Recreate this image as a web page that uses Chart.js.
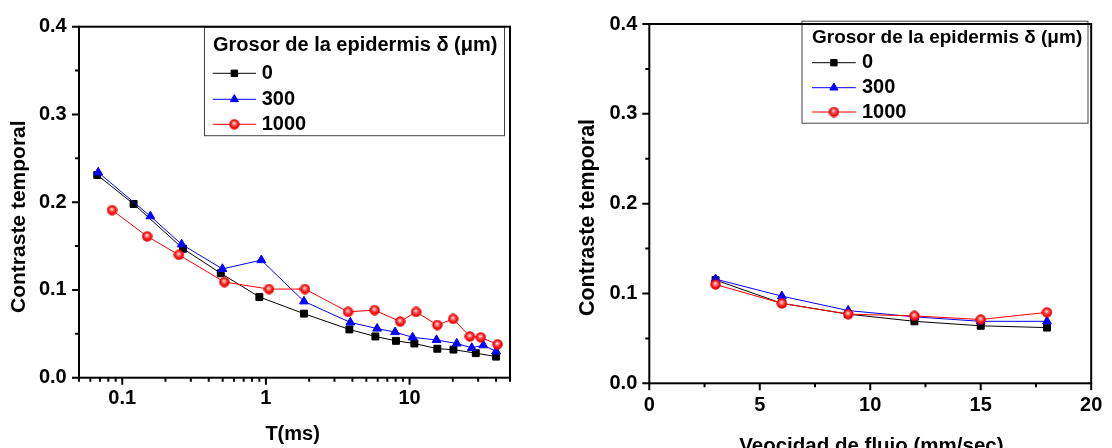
<!DOCTYPE html>
<html><head><meta charset="utf-8">
<script src="https://cdn.jsdelivr.net/npm/chart.js@4.4.1/dist/chart.umd.min.js"></script>
<style>
html,body{margin:0;padding:0;background:#fff;overflow:hidden}
#wrap{position:relative;width:1112px;height:448px;background:#fff}
canvas{position:absolute;top:0}
</style></head><body>
<div id="wrap">
<canvas id="c1" width="556" height="448" style="left:0"></canvas>
<canvas id="c2" width="556" height="448" style="left:556px"></canvas>
</div>
<script>
// ---------------- data ----------------
const seriesLabels = ['0', '300', '1000'];
const legendTitle = 'Grosor de la epidermis \u03b4 (\u03bcm)';
const yTitle = 'Contraste temporal';
const leftXTitle = 'T(ms)';
const rightXTitle = 'Veocidad de flujo (mm/sec)';

// Left panel: contraste vs T (ms)
const tX0    = [0.067, 0.12, 0.265, 0.485, 0.9, 1.84, 3.81, 5.78, 8.04, 10.8, 15.6, 20.2, 28.9, 40];
const tY0    = [0.231, 0.198, 0.147, 0.119, 0.092, 0.073, 0.055, 0.047, 0.042, 0.039, 0.033, 0.032, 0.028, 0.024];
const tX300  = [0.068, 0.157, 0.259, 0.498, 0.929, 1.84, 3.87, 5.94, 7.92, 10.5, 15.4, 21.3, 27.1, 32.6, 40];
const tY300  = [0.234, 0.184, 0.152, 0.124, 0.134, 0.087, 0.063, 0.056, 0.052, 0.046, 0.043, 0.039, 0.034, 0.037, 0.030];
const tX1000 = [0.085, 0.149, 0.248, 0.514, 1.05, 1.87, 3.73, 5.71, 8.6, 11.1, 15.6, 20.1, 26.3, 31.3, 41];
const tY1000 = [0.191, 0.161, 0.140, 0.109, 0.101, 0.101, 0.075, 0.077, 0.064, 0.075, 0.060, 0.067, 0.047, 0.046, 0.038];

// Right panel: contraste vs velocidad de flujo
const vX     = [3, 6, 9, 12, 15, 18];
const vY0    = [0.115, 0.089, 0.077, 0.069, 0.064, 0.062];
const vY300  = [0.116, 0.097, 0.081, 0.074, 0.069, 0.069];
const vY1000 = [0.110, 0.089, 0.077, 0.075, 0.071, 0.079];

// ticks
const leftXMajor  = [0.1, 1, 10];
const leftXMinor  = [0.05, 0.06, 0.07, 0.08, 0.09, 0.2, 0.3, 0.4, 0.5, 0.6, 0.7, 0.8, 0.9,
                     2, 3, 4, 5, 6, 7, 8, 9, 20, 30, 40, 50];
const rightXMajor = [0, 5, 10, 15, 20];
const rightXMinor = [2.5, 7.5, 12.5, 17.5];
const yMajor      = [0, 0.1, 0.2, 0.3, 0.4];
const yMinor      = [0.05, 0.15, 0.25, 0.35];

// ---------------- styles ----------------
const FONT = '"Liberation Sans", Arial, Helvetica, sans-serif';
const colors = ['#000000', '#0000ff', '#ff0000'];

function redBall() {
  const c = document.createElement('canvas');
  c.width = 11; c.height = 11;
  const g = c.getContext('2d');
  const grd = g.createRadialGradient(5.1, 4.2, 0.3, 5.5, 5.5, 5.2);
  grd.addColorStop(0, '#ffe6e6');
  grd.addColorStop(0.35, '#ff6060');
  grd.addColorStop(0.75, '#ff0000');
  grd.addColorStop(1, '#d80000');
  g.fillStyle = grd;
  g.beginPath(); g.arc(5.5, 5.5, 4.8, 0, Math.PI * 2); g.fill();
  g.strokeStyle = '#e00000'; g.lineWidth = 0.8; g.stroke();
  return c;
}
const ball = redBall();

function pts(xs, ys) { return xs.map((x, i) => ({x: x, y: ys[i]})); }

function makeDatasets(xs0, ys0, xs1, ys1, xs2, ys2) {
  return [
    {label: seriesLabels[0], data: pts(xs0, ys0), borderColor: colors[0], backgroundColor: colors[0],
     borderWidth: 1, pointStyle: 'rect', pointRadius: 4.9, pointBorderWidth: 1, order: 3},
    {label: seriesLabels[1], data: pts(xs1, ys1), borderColor: colors[1], backgroundColor: colors[1],
     borderWidth: 1, pointStyle: 'triangle', pointRadius: 5.1, pointBorderWidth: 1, order: 2},
    {label: seriesLabels[2], data: pts(xs2, ys2), borderColor: colors[2], backgroundColor: colors[2],
     borderWidth: 1, pointStyle: ball, pointRadius: 5, pointBorderWidth: 0, order: 1}
  ];
}

// plugin: frame, tick marks, legend box and axis titles
const decorPlugin = {
  id: 'decor',
  afterDraw(chart, args, o) {
    const ctx = chart.ctx, a = chart.chartArea;
    const xs = chart.scales.x, ys = chart.scales.y;
    ctx.save();
    // legend
    const L = o.legend;
    ctx.fillStyle = '#fff';
    ctx.fillRect(L.x, L.y, L.w, L.h);
    ctx.strokeStyle = '#444'; ctx.lineWidth = 1;
    ctx.strokeRect(L.x + 0.5, L.y + 0.5, L.w, L.h);
    ctx.fillStyle = '#000';
    ctx.font = 'bold ' + L.titleSize + 'px ' + FONT;
    ctx.textAlign = 'left'; ctx.textBaseline = 'middle';
    ctx.fillText(legendTitle, L.textX0, L.titleY);
    chart.data.datasets.forEach((ds, i) => {
      const y = L.rowY[i];
      ctx.strokeStyle = ds.borderColor; ctx.lineWidth = 1;
      ctx.beginPath(); ctx.moveTo(L.lineX0, y); ctx.lineTo(L.lineX1, y); ctx.stroke();
      ctx.fillStyle = ds.backgroundColor; ctx.strokeStyle = ds.borderColor;
      const cx = (L.lineX0 + L.lineX1) / 2;
      Chart.helpers.drawPoint(ctx, {pointStyle: ds.pointStyle, rotation: 0,
        radius: ds.pointRadius * 0.92, borderWidth: ds.pointBorderWidth}, cx, y);
      ctx.fillStyle = '#000';
      ctx.font = 'bold ' + L.rowSize + 'px ' + FONT;
      ctx.textAlign = 'left'; ctx.textBaseline = 'middle';
      ctx.fillText(ds.label, L.textX, y);
    });
    // frame
    ctx.strokeStyle = '#000'; ctx.lineWidth = 2;
    ctx.strokeRect(a.left, a.top, a.right - a.left, a.bottom - a.top);
    // ticks
    ctx.beginPath();
    o.xMajor.forEach(v => { const p = xs.getPixelForValue(v); ctx.moveTo(p, a.bottom); ctx.lineTo(p, a.bottom + 7); });
    o.xMinor.forEach(v => { const p = xs.getPixelForValue(v); ctx.moveTo(p, a.bottom); ctx.lineTo(p, a.bottom + 4); });
    o.yMajor.forEach(v => { const p = ys.getPixelForValue(v); ctx.moveTo(a.left, p); ctx.lineTo(a.left - 7, p); });
    o.yMinor.forEach(v => { const p = ys.getPixelForValue(v); ctx.moveTo(a.left, p); ctx.lineTo(a.left - 4, p); });
    ctx.stroke();
    // axis titles
    ctx.fillStyle = '#000';
    ctx.textAlign = 'center'; ctx.textBaseline = 'alphabetic';
    ctx.font = 'bold ' + o.xt.size + 'px ' + FONT;
    ctx.fillText(o.xt.text, o.xt.x, o.xt.y);
    ctx.translate(o.yt.x, o.yt.y);
    ctx.rotate(-Math.PI / 2);
    ctx.font = 'bold ' + o.yt.size + 'px ' + FONT;
    ctx.fillText(o.yt.text, 0, 0);
    ctx.restore();
  }
};

function tickFont() { return {family: FONT, size: 20, weight: 'bold'}; }

function baseOptions(pad, yWidth, xHeight, xPad, yPad) {
  return {
    responsive: false, animation: false, devicePixelRatio: 1,
    layout: {padding: pad},
    plugins: {legend: {display: false}, tooltip: {enabled: false}},
    scales: {
      y: {
        type: 'linear', min: 0, max: 0.4,
        afterBuildTicks: s => { s.ticks = yMajor.map(v => ({value: v})); },
        afterFit: s => { s.width = yWidth; },
        grid: {display: false, drawTicks: false},
        border: {display: false},
        ticks: {color: '#000', font: tickFont(), padding: yPad, callback: v => Number(v).toFixed(1)}
      },
      x: {
        afterFit: s => { s.height = xHeight; },
        grid: {display: false, drawTicks: false},
        border: {display: false},
        ticks: {color: '#000', font: tickFont(), padding: xPad, autoSkip: false, maxRotation: 0, minRotation: 0}
      }
    }
  };
}

// ---------- left chart ----------
const opt1 = baseOptions({left: 0, right: 46, top: 26.7, bottom: 0}, 79, 70.3, 8.6, 12.3);
Object.assign(opt1.scales.x, {
  type: 'logarithmic', min: 0.05, max: 50,
  afterBuildTicks: s => { s.ticks = leftXMajor.map(v => ({value: v})); }
});
opt1.scales.x.ticks.callback = v => String(v);
opt1.plugins.decor = {
  xMajor: leftXMajor, xMinor: leftXMinor, yMajor: yMajor, yMinor: yMinor,
  legend: {x: 204, y: 26.7, w: 300, h: 108.5, titleSize: 20, rowSize: 20,
           textX0: 213, titleY: 45, rowY: [73.3, 99.3, 124.3], lineX0: 212.7, lineX1: 256, textX: 261.7},
  xt: {text: leftXTitle, x: 292.6, y: 440, size: 20},
  yt: {text: yTitle, x: 25, y: 216.7, size: 21}
};
new Chart(document.getElementById('c1'), {
  type: 'line',
  data: {datasets: makeDatasets(tX0, tY0, tX300, tY300, tX1000, tY1000)},
  options: opt1,
  plugins: [decorPlugin]
});

// ---------- right chart ----------
const opt2 = baseOptions({left: 0, right: 19, top: 20.7, bottom: 0}, 93.3, 64.7, 9.7, 12);
Object.assign(opt2.scales.x, {
  type: 'linear', min: 0, max: 20,
  afterBuildTicks: s => { s.ticks = rightXMajor.map(v => ({value: v})); }
});
opt2.plugins.decor = {
  xMajor: rightXMajor, xMinor: rightXMinor, yMajor: yMajor, yMinor: yMinor,
  legend: {x: 245.5, y: 20.7, w: 286, h: 102, titleSize: 19, rowSize: 20,
           textX0: 256, titleY: 37.5, rowY: [62.7, 87.7, 112], lineX0: 256, lineX1: 299.8, textX: 306},
  xt: {text: rightXTitle, x: 315.4, y: 452, size: 20.5},
  yt: {text: yTitle, x: 37.5, y: 217.5, size: 21.5}
};
new Chart(document.getElementById('c2'), {
  type: 'line',
  data: {datasets: makeDatasets(vX, vY0, vX, vY300, vX, vY1000)},
  options: opt2,
  plugins: [decorPlugin]
});
</script>
</body></html>
